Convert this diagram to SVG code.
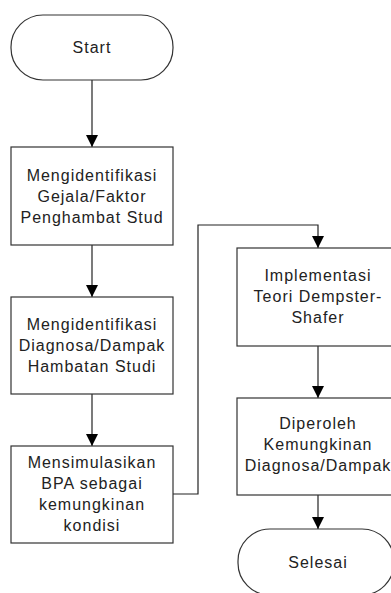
<svg xmlns="http://www.w3.org/2000/svg" width="391" height="593" viewBox="0 0 391 593">
<style>
.shape{fill:#fff;stroke:#333;stroke-width:1.2}
.lbl{font-family:"Liberation Sans",Arial,sans-serif;font-size:16px;letter-spacing:1px;fill:#222;text-anchor:middle}
.conn{fill:none;stroke:#222;stroke-width:1.2}
</style>
<defs>
<marker id="arr" markerUnits="userSpaceOnUse" markerWidth="12" markerHeight="12" refX="12" refY="6" orient="auto">
<path d="M0,0 L12,6 L0,12 z" fill="#000"/>
</marker>
</defs>
<rect width="391" height="593" fill="#fff"/>
<g id="connectors">
<path class="conn" d="M92,80 V147" marker-end="url(#arr)"/>
<path class="conn" d="M92,245 V297" marker-end="url(#arr)"/>
<path class="conn" d="M92,394 V446" marker-end="url(#arr)"/>
<path class="conn" d="M173,494 H198 V225 H318 V248" marker-end="url(#arr)"/>
<path class="conn" d="M318,346 V398" marker-end="url(#arr)"/>
<path class="conn" d="M318,495 V529" marker-end="url(#arr)"/>
</g>
<g id="start">
<rect class="shape" x="11" y="15" width="162" height="65" rx="32" ry="32"/>
<text class="lbl" x="92" y="53">Start</text>
</g>
<g id="box1">
<rect class="shape" x="11" y="147" width="162" height="98"/>
<text class="lbl" x="92" y="181">Mengidentifikasi</text>
<text class="lbl" x="92" y="202">Gejala/Faktor</text>
<text class="lbl" x="92" y="223">Penghambat Stud</text>
</g>
<g id="box2">
<rect class="shape" x="11" y="297" width="162" height="97"/>
<text class="lbl" x="92" y="330">Mengidentifikasi</text>
<text class="lbl" x="92" y="351">Diagnosa/Dampak</text>
<text class="lbl" x="92" y="372">Hambatan Studi</text>
</g>
<g id="box3">
<rect class="shape" x="11" y="446" width="162" height="97"/>
<text class="lbl" x="92" y="468">Mensimulasikan</text>
<text class="lbl" x="92" y="489">BPA sebagai</text>
<text class="lbl" x="92" y="510">kemungkinan</text>
<text class="lbl" x="92" y="531">kondisi</text>
</g>
<g id="box4">
<rect class="shape" x="237" y="248" width="162" height="98"/>
<text class="lbl" x="318" y="281">Implementasi</text>
<text class="lbl" x="318" y="302">Teori Dempster-</text>
<text class="lbl" x="318" y="323">Shafer</text>
</g>
<g id="box5">
<rect class="shape" x="237" y="398" width="162" height="97"/>
<text class="lbl" x="318" y="429">Diperoleh</text>
<text class="lbl" x="318" y="450">Kemungkinan</text>
<text class="lbl" x="318" y="471">Diagnosa/Dampak</text>
</g>
<g id="end">
<rect class="shape" x="238" y="529" width="156" height="66" rx="32" ry="32"/>
<text class="lbl" x="318" y="568">Selesai</text>
</g>
</svg>
